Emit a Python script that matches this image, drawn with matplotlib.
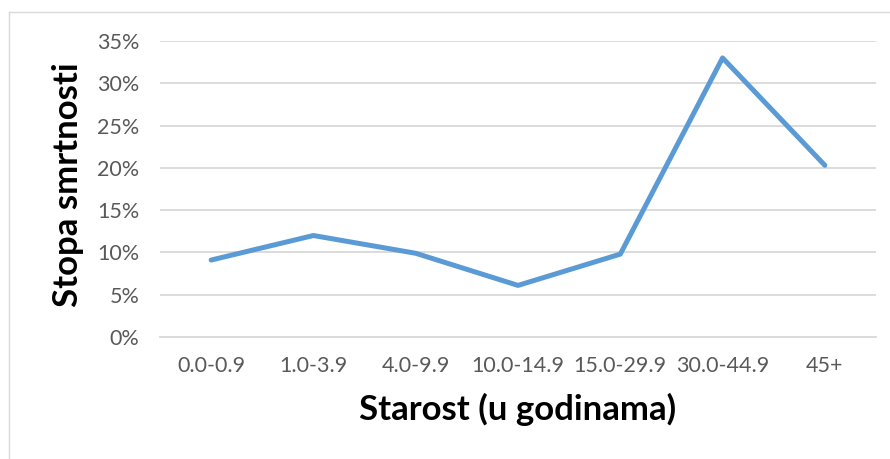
import matplotlib
matplotlib.use("Agg")
import matplotlib.pyplot as plt
from matplotlib.lines import Line2D
from matplotlib.ticker import FuncFormatter, MultipleLocator

# ── data ─────────────────────────────────────────────────────────────
age_groups = ["0.0-0.9", "1.0-3.9", "4.0-9.9", "10.0-14.9",
              "15.0-29.9", "30.0-44.9", "45+"]
mortality_pct = [9.1, 12.0, 9.9, 6.1, 9.8, 33.0, 20.3]

LINE_C = "#5B9BD5"
GRID_C = "#D9D9D9"
TICK_C = "#595959"
FONT = "Lato"

fig = plt.figure(figsize=(8.9, 4.59), dpi=100)
ax = fig.add_axes([160 / 890, 1 - 337 / 459, 716 / 890, 296 / 459])

x = list(range(len(age_groups)))
ax.plot(x, mortality_pct, color=LINE_C, linewidth=3.6,
        solid_capstyle="round", solid_joinstyle="round", zorder=3)

ax.set_xlim(-0.5, len(age_groups) - 0.5)
ax.set_ylim(0, 35)
ax.yaxis.set_major_locator(MultipleLocator(5))
ax.yaxis.set_major_formatter(FuncFormatter(lambda v, _: f"{v:.0f}%"))
ax.set_xticks(x)
ax.set_xticklabels(age_groups)

ax.grid(axis="y", color=GRID_C, linewidth=1.3)
ax.set_axisbelow(True)
for s in ["top", "right", "left"]:
    ax.spines[s].set_visible(False)
ax.spines["bottom"].set_color(GRID_C)
ax.spines["bottom"].set_linewidth(1.3)
ax.tick_params(length=0, labelsize=15.5, labelcolor=TICK_C)
ax.tick_params(axis="x", pad=14)
ax.tick_params(axis="y", pad=15)
for lbl in ax.get_xticklabels() + ax.get_yticklabels():
    lbl.set_family(FONT)

ax.set_xlabel("Starost (u godinama)", fontsize=25, fontweight="bold",
              family=FONT, labelpad=12)

# y title placed directly, Excel puts it close to the tick labels
fig.text(68 / 890, 1 - 185 / 459, "Stopa smrtnosti", rotation=90,
         ha="center", va="center", fontsize=25, fontweight="bold",
         family=FONT)

# chart area border (Excel style)
fig.add_artist(Line2D([9 / 890, 9 / 890], [0, 1 - 12 / 459],
                      transform=fig.transFigure, color=GRID_C, linewidth=1))
fig.add_artist(Line2D([9 / 890, 1], [1 - 12 / 459, 1 - 12 / 459],
                      transform=fig.transFigure, color=GRID_C, linewidth=1))

fig.savefig("out.png", dpi=100)
